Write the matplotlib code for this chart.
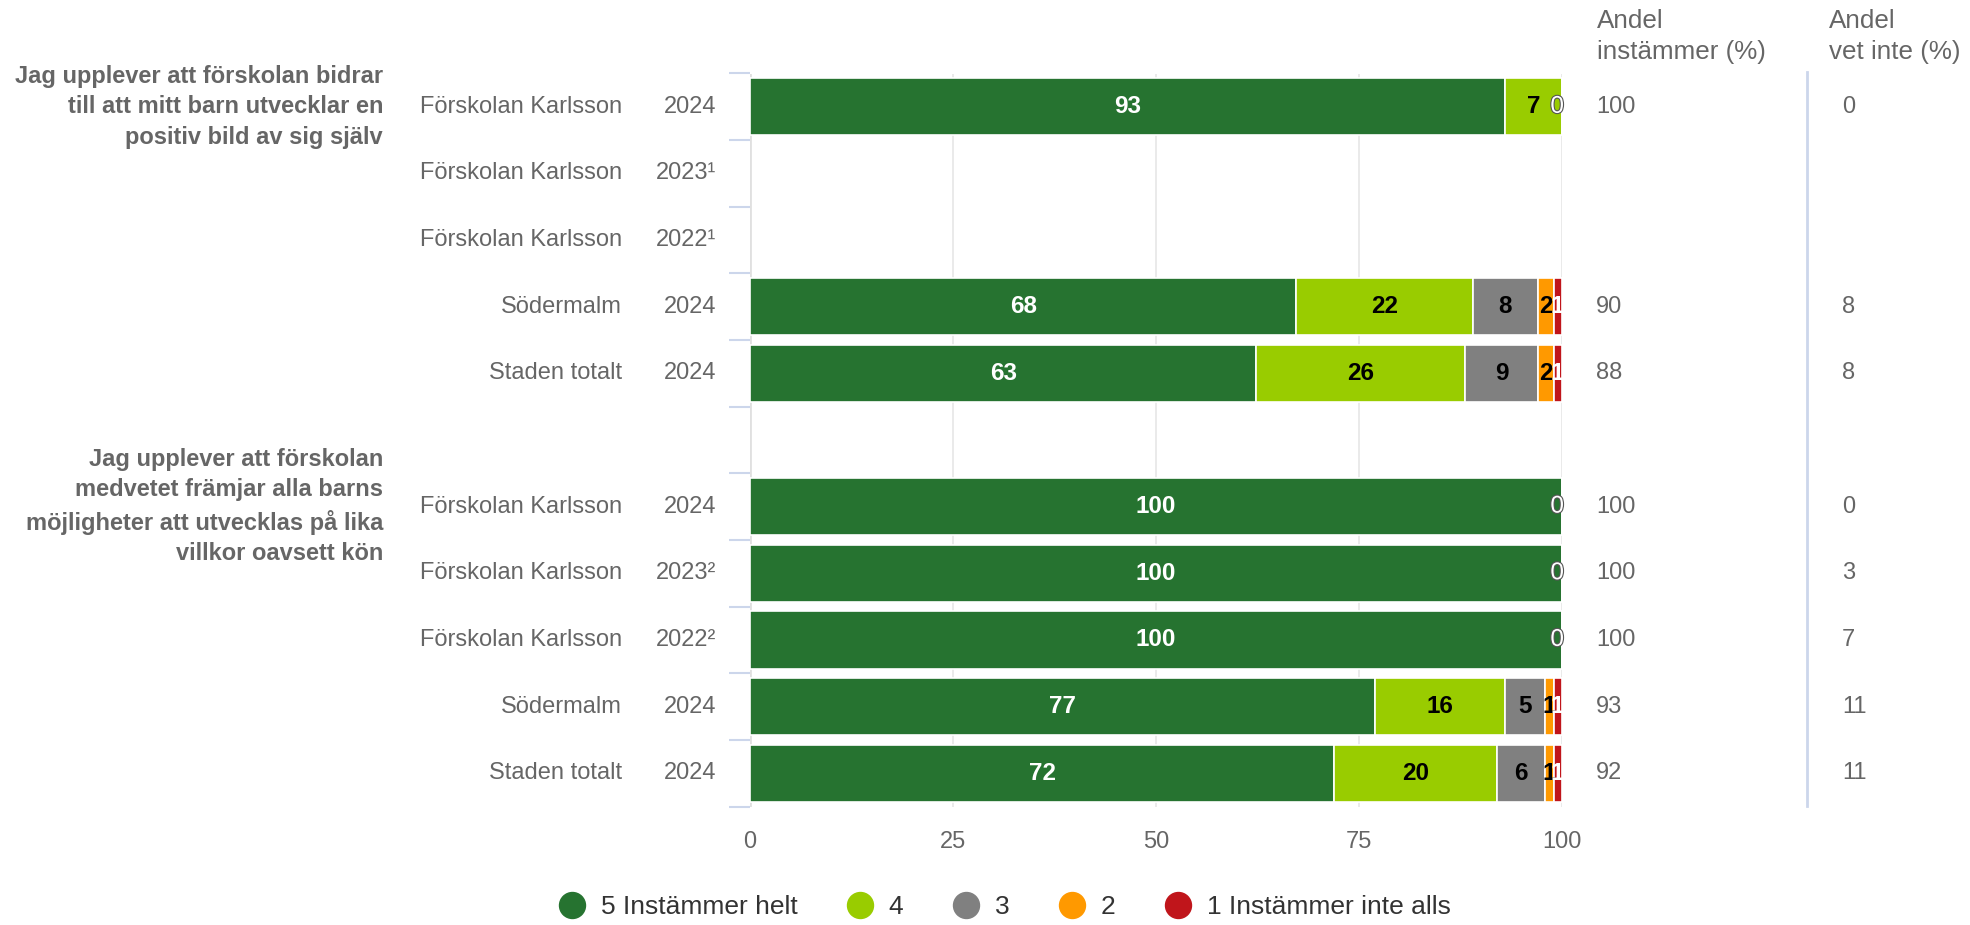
import matplotlib
matplotlib.use("Agg")
import matplotlib.pyplot as plt
import matplotlib.patheffects as pe
from matplotlib.transforms import blended_transform_factory
from matplotlib.lines import Line2D
import numpy as np

plt.rcParams['font.family'] = ['Liberation Sans', 'DejaVu Sans']

# ---------------- data ----------------
questions = [
    "Jag upplever att förskolan bidrar\ntill att mitt barn utvecklar en\npositiv bild av sig själv",
    "Jag upplever att förskolan\nmedvetet främjar alla barns\nmöjligheter att utvecklas på lika\nvillkor oavsett kön",
]
question_rows = [0, 6]
units = ["Förskolan Karlsson", "Förskolan Karlsson", "Förskolan Karlsson", "Södermalm", "Staden totalt", "",
         "Förskolan Karlsson", "Förskolan Karlsson", "Förskolan Karlsson", "Södermalm", "Staden totalt"]
years = ["2024", "2023¹", "2022¹", "2024", "2024", "",
         "2024", "2023²", "2022²", "2024", "2024"]
series_names = ["5 Instämmer helt", "4", "3", "2", "1 Instämmer inte alls"]
s5 = [93, None, None, 68, 63, None, 100, 100, 100, 77, 72]
s4 = [7, None, None, 22, 26, None, 0, 0, 0, 16, 20]
s3 = [0, None, None, 8, 9, None, 0, 0, 0, 5, 6]
s2 = [0, None, None, 2, 2, None, 0, 0, 0, 1, 1]
s1 = [0, None, None, 1, 1, None, 0, 0, 0, 1, 1]
andel_instammer = ["100", "", "", "90", "88", "", "100", "100", "100", "93", "92"]
andel_vet_inte = ["0", "", "", "8", "8", "", "0", "3", "7", "11", "11"]
header_instammer = "Andel\ninstämmer (%)"
header_vet_inte = "Andel\nvet inte (%)"
x_ticks = [0, 25, 50, 75, 100]

# ---------------- style ----------------
colors = ["#267330", "#99cc00", "#808080", "#ff9900", "#c0151b"]
label_colors = ["white", "black", "black", "black", "white"]
txt_grey = "#666666"
W, H = 1970, 925
ax_top, ax_bot = 73.5, 806.5

fig = plt.figure(figsize=(W / 100, H / 100), dpi=100)
ax = fig.add_axes([750 / W, 1 - ax_bot / H, (1561.7 - 750) / W, (ax_bot - ax_top) / H])

series = [s5, s4, s3, s2, s1]
n = len(units)

# percent stacking
totals = []
for i in range(n):
    vals = [s[i] for s in series]
    totals.append(sum(vals) if vals[0] is not None else None)

lefts = np.zeros(n)
bar_h = 0.86
for k, s in enumerate(series):
    idx = [i for i in range(n) if s[i] is not None]
    widths = np.array([s[i] / totals[i] * 100 for i in idx])
    ax.barh(idx, widths, left=lefts[idx], height=bar_h, color=colors[k],
            edgecolor="white", linewidth=1.2, zorder=2)
    for j, i in enumerate(idx):
        if s[i] > 0:
            ax.text(lefts[i] + widths[j] / 2, i, str(s[i]), ha="center", va="center",
                    fontsize=17.5, fontweight="bold", color=label_colors[k],
                    zorder=4, clip_on=True)
    lefts[idx] += widths

# zero labels (one per row, at the end of the bar)
for i in range(n):
    if totals[i] is not None and any(s[i] == 0 for s in series):
        t = ax.text(99.45, i, "0", ha="center", va="center", fontsize=17.5,
                    color="white", zorder=5, clip_on=False)
        t.set_path_effects([pe.withStroke(linewidth=1.6, foreground="#555555")])

ax.set_xlim(0, 100)
ax.set_ylim(n - 0.5, -0.5)
for sp in ax.spines.values():
    sp.set_visible(False)
ax.set_xticks(x_ticks)
ax.set_xticklabels([str(v) for v in x_ticks])
ax.tick_params(axis="x", length=0, pad=18, labelsize=17, labelcolor=txt_grey)
ax.xaxis.grid(True, color="#e6e6e6", linewidth=1.2, zorder=0)
ax.set_axisbelow(True)
ax.axvline(0, color="#e0e0e0", linewidth=2, zorder=1)
ax.set_yticks(np.arange(-0.5, n, 1))
ax.set_yticklabels([])
ax.tick_params(axis="y", length=15, width=1.5, color="#ccd6eb")

trans = blended_transform_factory(fig.transFigure, ax.transData)
for i in range(n):
    fig.text(622 / W, i, units[i], transform=trans, ha="right", va="center",
             fontsize=17, color=txt_grey)
    fig.text(716 / W, i, years[i], transform=trans, ha="right", va="center",
             fontsize=17, color=txt_grey)
    fig.text(1596 / W, i, andel_instammer[i], transform=trans, ha="left", va="center",
             fontsize=17, color=txt_grey)
    fig.text(1842 / W, i, andel_vet_inte[i], transform=trans, ha="left", va="center",
             fontsize=17, color=txt_grey)

for q, r in zip(questions, question_rows):
    fig.text(383 / W, r, q, transform=trans, ha="right", va="center",
             fontsize=17, fontweight="bold", color=txt_grey, linespacing=1.42)

fig.text(1597 / W, 1 - 36.5 / H, header_instammer, ha="left", va="center",
         fontsize=18.7, color=txt_grey, linespacing=1.38)
fig.text(1829 / W, 1 - 36.5 / H, header_vet_inte, ha="left", va="center",
         fontsize=18.7, color=txt_grey, linespacing=1.38)

fig.add_artist(Line2D([1806.5 / W, 1806.5 / W], [1 - 72 / H, 1 - 806 / H],
                      transform=fig.transFigure, color="#ccd6eb", linewidth=2))

handles = [Line2D([], [], marker="o", linestyle="none", markersize=18.7,
                  markerfacecolor=c, markeredgecolor=c) for c in colors]
fig.legend(handles, series_names, loc="center", bbox_to_anchor=(1004.5 / W, 1 - 907 / H),
           ncol=5, frameon=False, fontsize=19, labelcolor="#333333",
           handlelength=1.0, handletextpad=0.6, columnspacing=1.86, borderpad=0)

fig.savefig("out.png", dpi=100)
